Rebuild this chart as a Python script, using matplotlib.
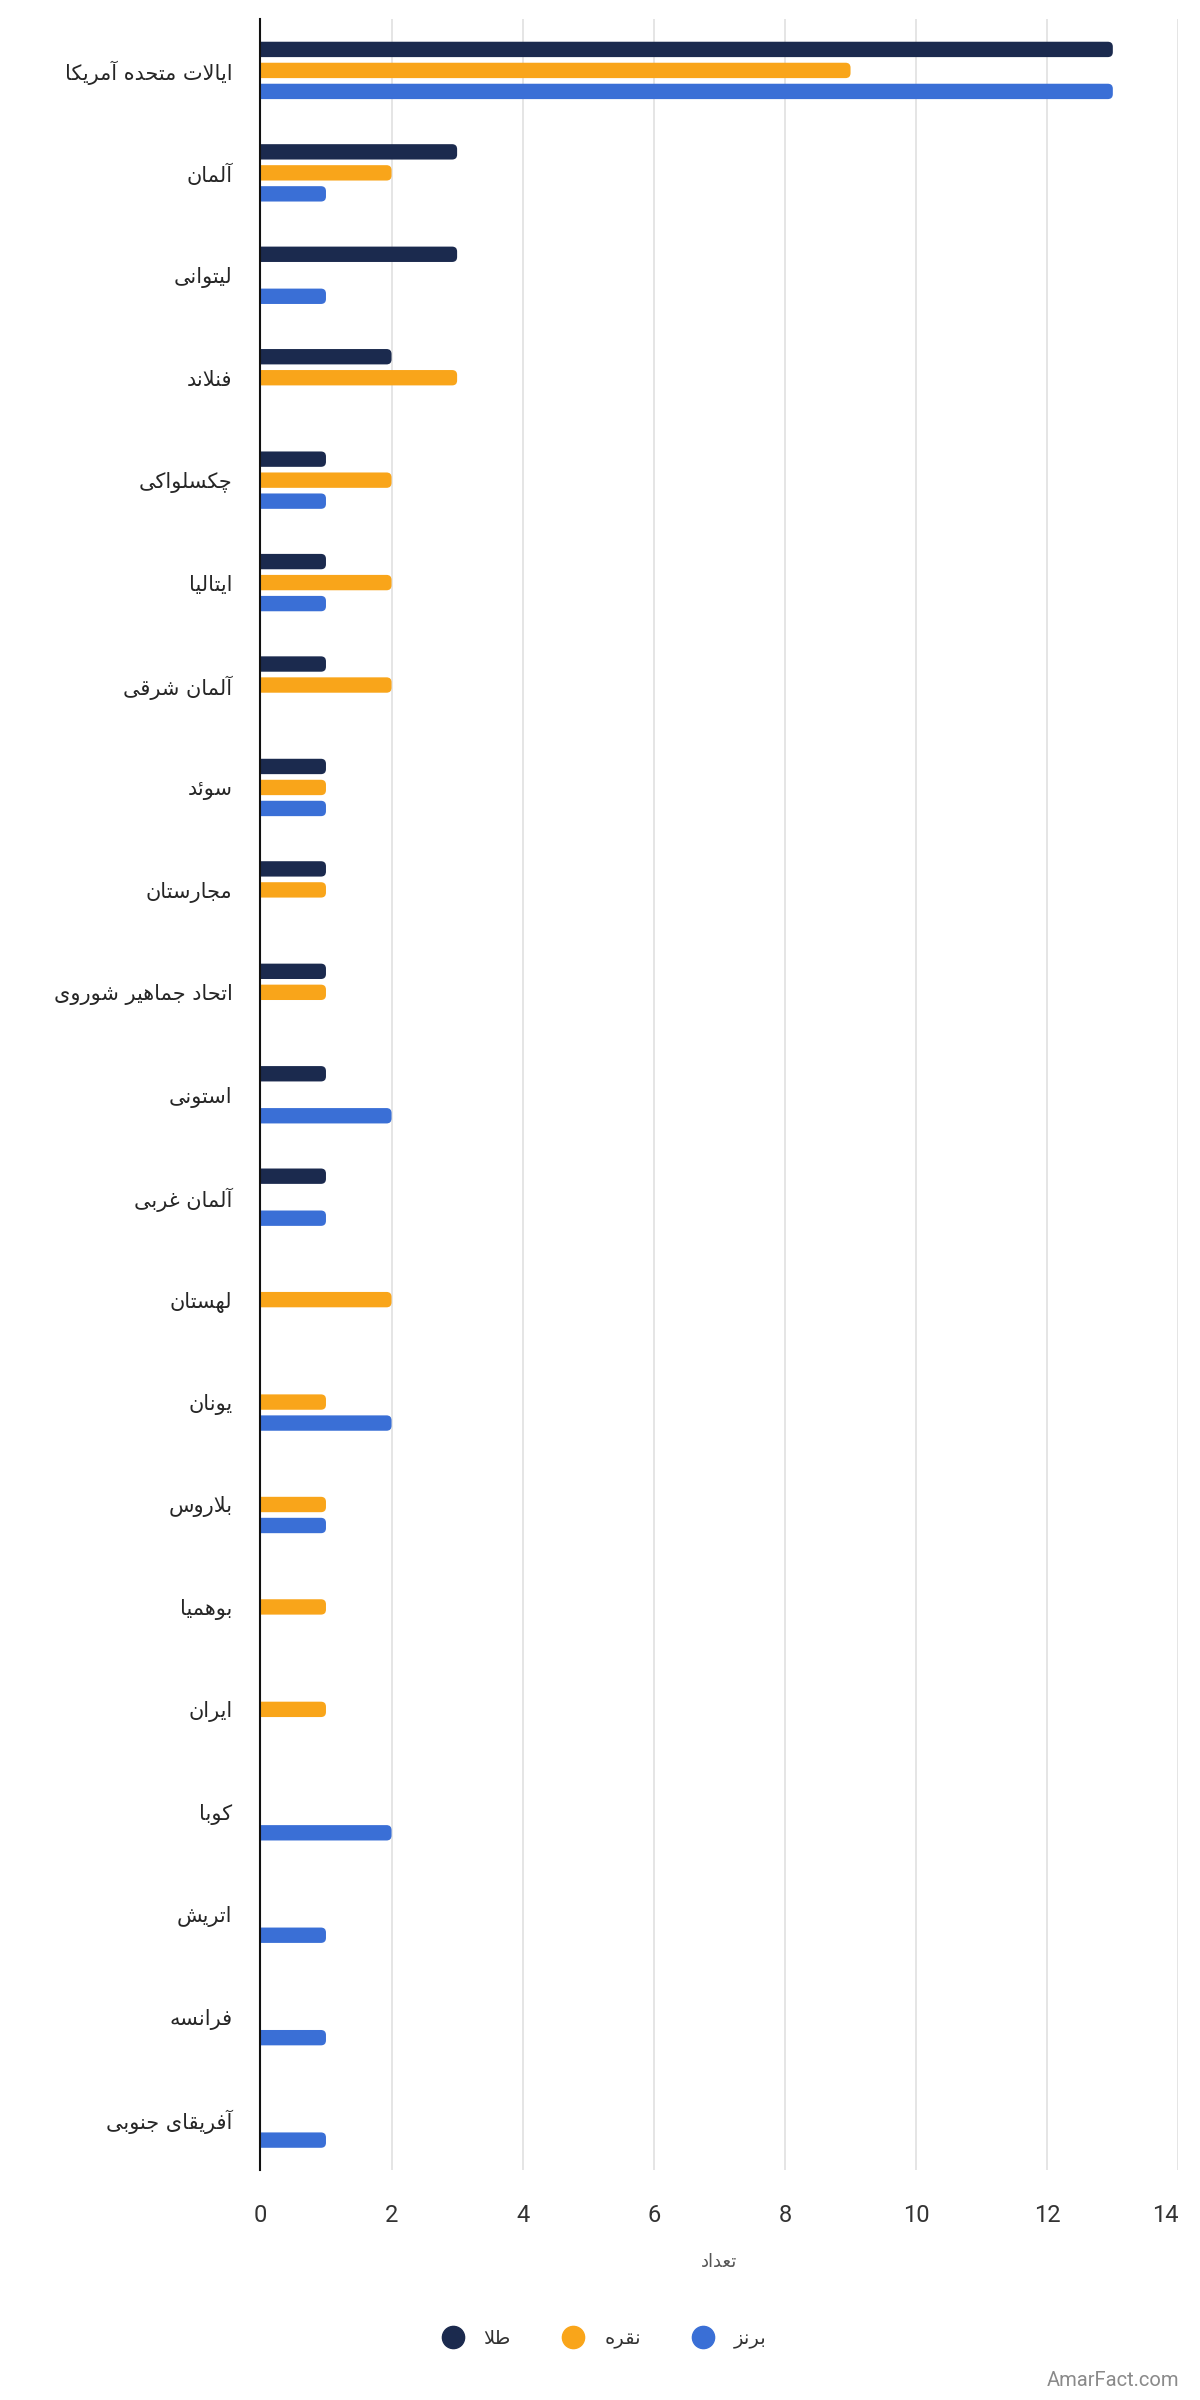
import matplotlib
matplotlib.use("Agg")
import matplotlib.pyplot as plt
from matplotlib.lines import Line2D
from matplotlib.patches import FancyBboxPatch
import numpy as np

# داده ها
countries = ["ایالات متحده آمریکا", "آلمان", "لیتوانی", "فنلاند", "چکسلواکی", "ایتالیا",
             "آلمان شرقی", "سوئد", "مجارستان", "اتحاد جماهیر شوروی", "استونی", "آلمان غربی",
             "لهستان", "یونان", "بلاروس", "بوهمیا", "ایران", "کوبا", "اتریش", "فرانسه",
             "آفریقای جنوبی"]
gold = [13, 3, 3, 2, 1, 1, 1, 1, 1, 1, 1, 1, 0, 0, 0, 0, 0, 0, 0, 0, 0]
silver = [9, 2, 0, 3, 2, 2, 2, 1, 1, 1, 0, 0, 2, 1, 1, 1, 1, 0, 0, 0, 0]
bronze = [13, 1, 1, 0, 1, 1, 0, 1, 0, 0, 2, 1, 0, 2, 1, 0, 0, 2, 1, 1, 1]
series_names = ["طلا", "نقره", "برنز"]
x_ticks = [0, 2, 4, 6, 8, 10, 12, 14]
x_label = "تعداد"

colors = ["#1b2a4e", "#f9a51a", "#3a6fd6"]

# matplotlib 3.10 does no arabic shaping, so map letters to presentation forms by hand
FORMS = {
    "ا": ("\uFE8D", "\uFE8E", None, None),
    "آ": ("\uFE81", "\uFE82", None, None),
    "ب": ("\uFE8F", "\uFE90", "\uFE91", "\uFE92"),
    "ت": ("\uFE95", "\uFE96", "\uFE97", "\uFE98"),
    "ج": ("\uFE9D", "\uFE9E", "\uFE9F", "\uFEA0"),
    "ح": ("\uFEA1", "\uFEA2", "\uFEA3", "\uFEA4"),
    "د": ("\uFEA9", "\uFEAA", None, None),
    "ر": ("\uFEAD", "\uFEAE", None, None),
    "ز": ("\uFEAF", "\uFEB0", None, None),
    "س": ("\uFEB1", "\uFEB2", "\uFEB3", "\uFEB4"),
    "ش": ("\uFEB5", "\uFEB6", "\uFEB7", "\uFEB8"),
    "ط": ("\uFEC1", "\uFEC2", "\uFEC3", "\uFEC4"),
    "ع": ("\uFEC9", "\uFECA", "\uFECB", "\uFECC"),
    "غ": ("\uFECD", "\uFECE", "\uFECF", "\uFED0"),
    "ف": ("\uFED1", "\uFED2", "\uFED3", "\uFED4"),
    "ق": ("\uFED5", "\uFED6", "\uFED7", "\uFED8"),
    "ک": ("\uFB8E", "\uFB8F", "\uFB90", "\uFB91"),
    "ل": ("\uFEDD", "\uFEDE", "\uFEDF", "\uFEE0"),
    "م": ("\uFEE1", "\uFEE2", "\uFEE3", "\uFEE4"),
    "ن": ("\uFEE5", "\uFEE6", "\uFEE7", "\uFEE8"),
    "ه": ("\uFEE9", "\uFEEA", "\uFEEB", "\uFEEC"),
    "و": ("\uFEED", "\uFEEE", None, None),
    "ی": ("\uFBFC", "\uFBFD", "\uFBFE", "\uFBFF"),
    "ئ": ("\uFE89", "\uFE8A", "\uFE8B", "\uFE8C"),
    "چ": ("\uFB7A", "\uFB7B", "\uFB7C", "\uFB7D"),
}
LAM_ALEF = {"ا": ("\uFEFB", "\uFEFC", None, None), "آ": ("\uFEF5", "\uFEF6", None, None)}


def shape(text):
    letters = []
    i = 0
    while i < len(text):
        c = text[i]
        if c == "ل" and i + 1 < len(text) and text[i + 1] in LAM_ALEF:
            letters.append(LAM_ALEF[text[i + 1]])
            i += 2
        else:
            letters.append(FORMS.get(c, c))
            i += 1
    out = []
    for j, f in enumerate(letters):
        if isinstance(f, str):
            out.append(f)
            continue
        prev = letters[j - 1] if j > 0 else None
        nxt = letters[j + 1] if j + 1 < len(letters) else None
        join_prev = isinstance(prev, tuple) and prev[2] is not None
        join_next = f[2] is not None and isinstance(nxt, tuple)
        if join_prev and join_next:
            out.append(f[3])
        elif join_prev:
            out.append(f[1])
        elif join_next:
            out.append(f[2])
        else:
            out.append(f[0])
    return "".join(reversed(out))


fig = plt.figure(figsize=(12, 24), dpi=100)
ax = fig.add_axes([0.217, 0.0957, 0.765, 0.8963])

y = np.arange(len(countries))
bar_h = 0.15
off = 0.205
bars = []
for k, vals in enumerate([gold, silver, bronze]):
    bars.append(ax.barh(y + (k - 1) * off, vals, height=bar_h, color=colors[k], zorder=3))

ax.set_ylim(len(countries) - 0.5, -0.5)
ax.set_xlim(0, 14)

# swap the plain rectangles for ones with rounded ends (left end hidden past the axis)
x_px = ax.get_position().width * fig.get_figwidth() * fig.dpi / 14
y_px = ax.get_position().height * fig.get_figheight() * fig.dpi / len(countries)
r = 5 / x_px
for k, cont in enumerate(bars):
    for rect in cont.patches:
        w = rect.get_width()
        if w > 0:
            fb = FancyBboxPatch((rect.get_x() - r * 2, rect.get_y()), w + r * 2, rect.get_height(),
                                boxstyle=f"round,pad=0,rounding_size={r}",
                                mutation_aspect=x_px / y_px,
                                facecolor=colors[k], edgecolor="none", zorder=3)
            ax.add_patch(fb)
        rect.set_visible(False)

ax.set_xticks(x_ticks)
ax.set_xticklabels([str(t) for t in x_ticks], fontfamily="Roboto", fontsize=17, color="#333333")
ax.get_xticklabels()[-1].set_horizontalalignment("right")
ax.set_yticks(y)
ax.set_yticklabels([shape(c) for c in countries], fontfamily="DejaVu Sans", fontsize=15, color="#262626")
ax.tick_params(axis="x", length=0, pad=24)
ax.tick_params(axis="y", length=0, pad=20)

ax.grid(axis="x", color="#e0e0e0", linewidth=1.2, zorder=0)
for s in ["top", "right", "bottom"]:
    ax.spines[s].set_visible(False)
ax.spines["left"].set_color("#111111")
ax.spines["left"].set_linewidth(1.5)
ax.spines["left"].set_zorder(4)

fig.text(0.5995, 0.0574, shape(x_label), ha="center", va="center", fontsize=13,
         color="#555555", fontfamily="DejaVu Sans")

handles = [Line2D([], [], marker="o", linestyle="", markersize=16, color=c) for c in colors]
leg = fig.legend(handles, [shape(n) for n in series_names], loc="center", bbox_to_anchor=(0.5, 0.0255),
                 ncol=3, frameon=False, prop={"family": "DejaVu Sans", "size": 14},
                 handletextpad=0.6, columnspacing=2.2)
for t in leg.get_texts():
    t.set_color("#333333")

fig.text(0.9825, 0.004, "AmarFact.com", ha="right", va="bottom", fontsize=14.5,
         color="#8a8a8a", fontfamily="Roboto")

fig.savefig("out.png", dpi=100, facecolor="white")
